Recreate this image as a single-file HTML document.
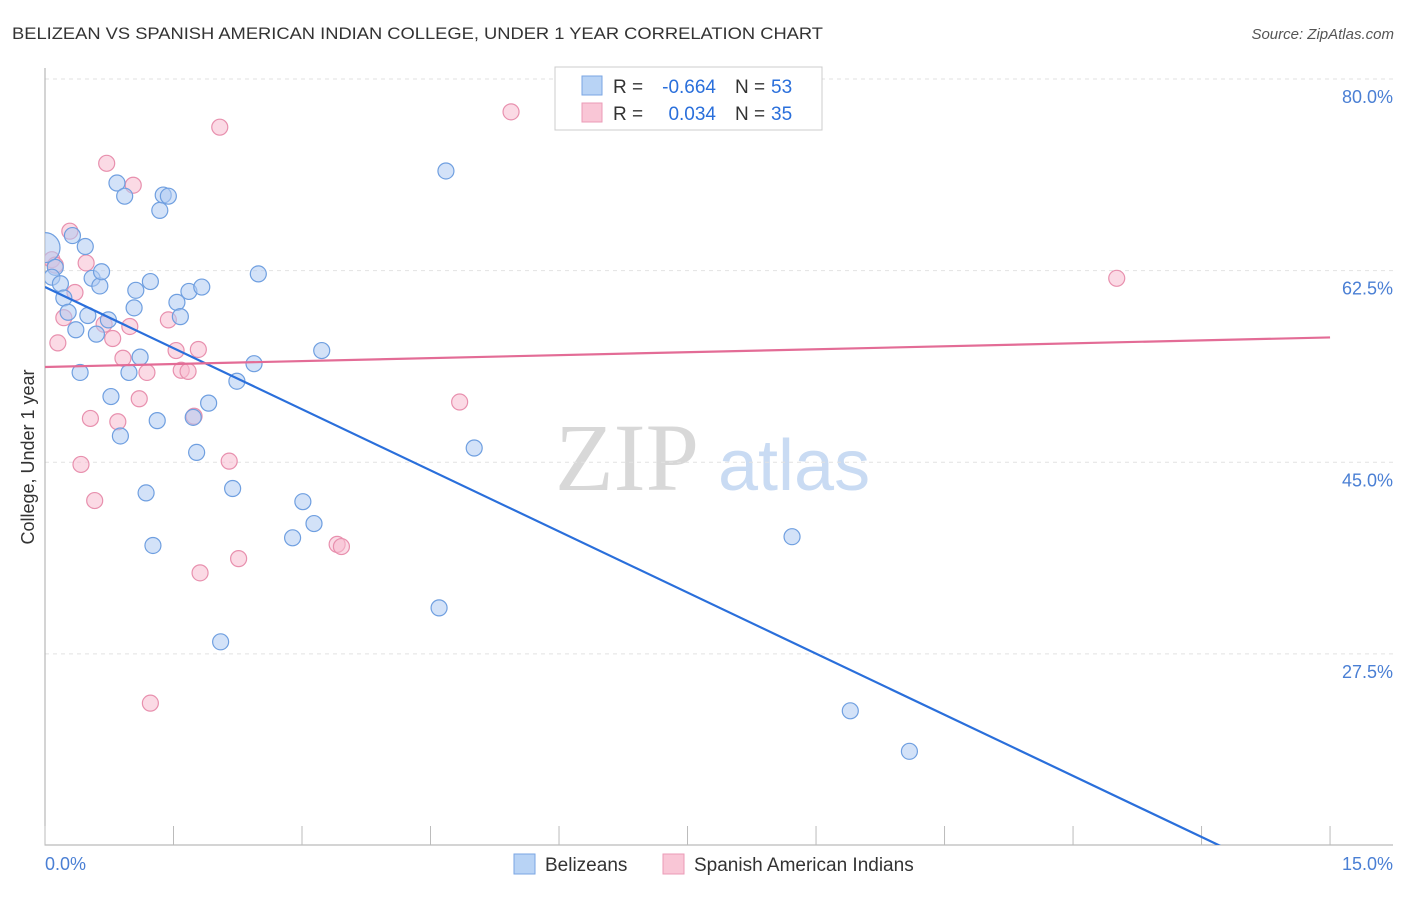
<!DOCTYPE html>
<html><head><meta charset="utf-8"><style>
body{margin:0;background:#fff;font-family:"Liberation Sans",sans-serif;}
</style></head><body>
<svg width="1406" height="892" xmlns="http://www.w3.org/2000/svg" font-family="Liberation Sans, sans-serif">
<text x="12" y="39" font-size="17" fill="#333" textLength="811" lengthAdjust="spacingAndGlyphs">BELIZEAN VS SPANISH AMERICAN INDIAN COLLEGE, UNDER 1 YEAR CORRELATION CHART</text>
<text x="1394" y="39" font-size="15" fill="#555" text-anchor="end" font-style="italic">Source: ZipAtlas.com</text>
<g>
<text x="555" y="490" font-size="96" fill="#d8d8d8" font-family="Liberation Serif, serif">ZIP</text>
<text x="718" y="490" font-size="72" fill="#c9dbf3">atlas</text>
</g>
<g id="grid"></g>
<g id="axes"></g>
<defs><clipPath id="plot"><rect x="45" y="60" width="1350" height="785"/></clipPath></defs>
<g id="marks" clip-path="url(#plot)"></g>
<g font-size="19">
<rect x="555" y="67" width="267" height="63" fill="#fff" stroke="#ccc"/>
<rect x="582" y="76" width="20" height="19" fill="#b8d3f5" stroke="#7aa6e3"/>
<rect x="582" y="103" width="20" height="19" fill="#f9c6d6" stroke="#eb9bb7"/>
<text x="613" y="93" fill="#333">R =</text>
<text x="716" y="93" fill="#2a6fdb" text-anchor="end">-0.664</text>
<text x="735" y="93" fill="#333">N =</text>
<text x="771" y="93" fill="#2a6fdb">53</text>
<text x="613" y="120" fill="#333">R =</text>
<text x="716" y="120" fill="#2a6fdb" text-anchor="end">0.034</text>
<text x="735" y="120" fill="#333">N =</text>
<text x="771" y="120" fill="#2a6fdb">35</text>
</g>
<g>
<rect x="514" y="854" width="21" height="20" fill="#b8d3f5" stroke="#7aa6e3"/>
<text x="545" y="871" font-size="19" fill="#333">Belizeans</text>
<rect x="663" y="854" width="21" height="20" fill="#f9c6d6" stroke="#eb9bb7"/>
<text x="694" y="871" font-size="19" fill="#333">Spanish American Indians</text>
</g>
<text transform="translate(34,457) rotate(-90)" font-size="18" fill="#333" text-anchor="middle">College, Under 1 year</text>
</svg>
<script>
const yTicks=[80,62.5,45,27.5];
const yTickLabels=["80.0%","62.5%","45.0%","27.5%"];
const xTickLabels=["0.0%","15.0%"];
const blueX=[0,.12,.08,.18,.47,.32,.55,.64,.66,.84,.93,1.34,1.38,1.44,1.23,1.06,1.04,1.54,1.68,1.83,1.58,2.49,.22,.27,.50,.36,.60,.74,.41,1.11,.98,.77,1.31,.88,1.73,1.91,2.24,2.44,3.23,1.77,1.18,2.19,1.26,3.01,3.14,2.89,2.05,4.68,5.01,4.60,8.72,9.40,10.09];
const blueY=[64.6,62.8,61.9,61.3,64.7,65.7,61.8,61.1,62.4,70.5,69.3,68.0,69.4,69.3,61.5,60.7,59.1,59.6,60.6,61.0,58.3,62.2,60.0,58.7,58.4,57.1,56.7,58.0,53.2,54.6,53.2,51.0,48.8,47.4,49.1,50.4,52.4,54.0,55.2,45.9,42.2,42.6,37.4,41.4,39.4,38.1,28.6,71.6,46.3,31.7,38.2,22.3,18.6];
const pinkX=[2.04,5.44,.72,1.03,.29,.08,.12,.48,.35,.22,.15,.69,.79,.99,1.44,.91,1.19,1.53,1.79,1.59,1.67,1.10,1.74,.53,.85,.42,2.15,4.84,.58,3.41,3.46,2.26,1.81,1.23,12.51];
const pinkY=[75.6,77.0,72.3,70.3,66.1,63.5,63.0,63.2,60.5,58.2,55.9,57.6,56.3,57.4,58.0,54.5,53.2,55.2,55.3,53.4,53.3,50.8,49.2,49.0,48.7,44.8,45.1,50.5,41.5,37.5,37.3,36.2,34.9,23.0,61.8];
const blueTrend=[61.0,-3.72];
const pinkTrend=[53.7,0.18];
const NS="http://www.w3.org/2000/svg";
const xs=v=>45+v*85.67, ys=v=>79+(80-v)*10.95;
function mk(t,a,p){const e=document.createElementNS(NS,t);for(const k in a)e.setAttribute(k,a[k]);p.appendChild(e);return e;}
const grid=document.getElementById('grid'),axes=document.getElementById('axes'),marks=document.getElementById('marks');
yTicks.forEach((t,i)=>{
 const g=mk('line',{x1:45,x2:1393,y1:ys(t),y2:ys(t),stroke:'#e2e2e2','stroke-dasharray':'4,4'},grid);
 
 
 const l=mk('text',{x:1393,y:ys(t)+24,'font-size':18,fill:'#4a7fd4','text-anchor':'end'},axes);
 l.textContent=yTickLabels[i];
 
 
});
const ax=mk('path',{d:'M45,68V845H1393',stroke:'#aaa',fill:'none'},axes);


for(let i=0;i<=10;i++){
 const t=mk('line',{x1:xs(i*1.5),x2:xs(i*1.5),y1:826,y2:845,stroke:'#bbb'},axes);
 
 
}
[[0,45,'start'],[1,1393,'end']].forEach(([i,x,a])=>{
 const l=mk('text',{x:x,y:870,'font-size':18,fill:'#4a7fd4','text-anchor':a},axes);
 l.textContent=xTickLabels[i];
 
 
});
function pts(X,Y,fill,stroke,name){
 X.forEach((x,i)=>{
  const r=(i===0&&name==='belizean-point')?15:8;
  const c=mk('circle',{cx:xs(x),cy:ys(Y[i]),r:r,fill:fill,'fill-opacity':0.55,stroke:stroke,'stroke-width':1.2},marks);
  
  
 });
}
pts(pinkX,pinkY,'#f7bcd0','#e890ae','spanish-american-indian-point');
pts(blueX,blueY,'#aecbf2','#6f9fe0','belizean-point');
function trend(tr,color,name){
 const l=mk('line',{x1:xs(0),y1:ys(tr[0]),x2:xs(15),y2:ys(tr[0]+tr[1]*15),stroke:color,'stroke-width':2.2},marks);
 
 
}
trend(blueTrend,'#2a6fdb','belizean-trend-line');
trend(pinkTrend,'#e36c96','spanish-american-indian-trend-line');
</script>
</body></html>
